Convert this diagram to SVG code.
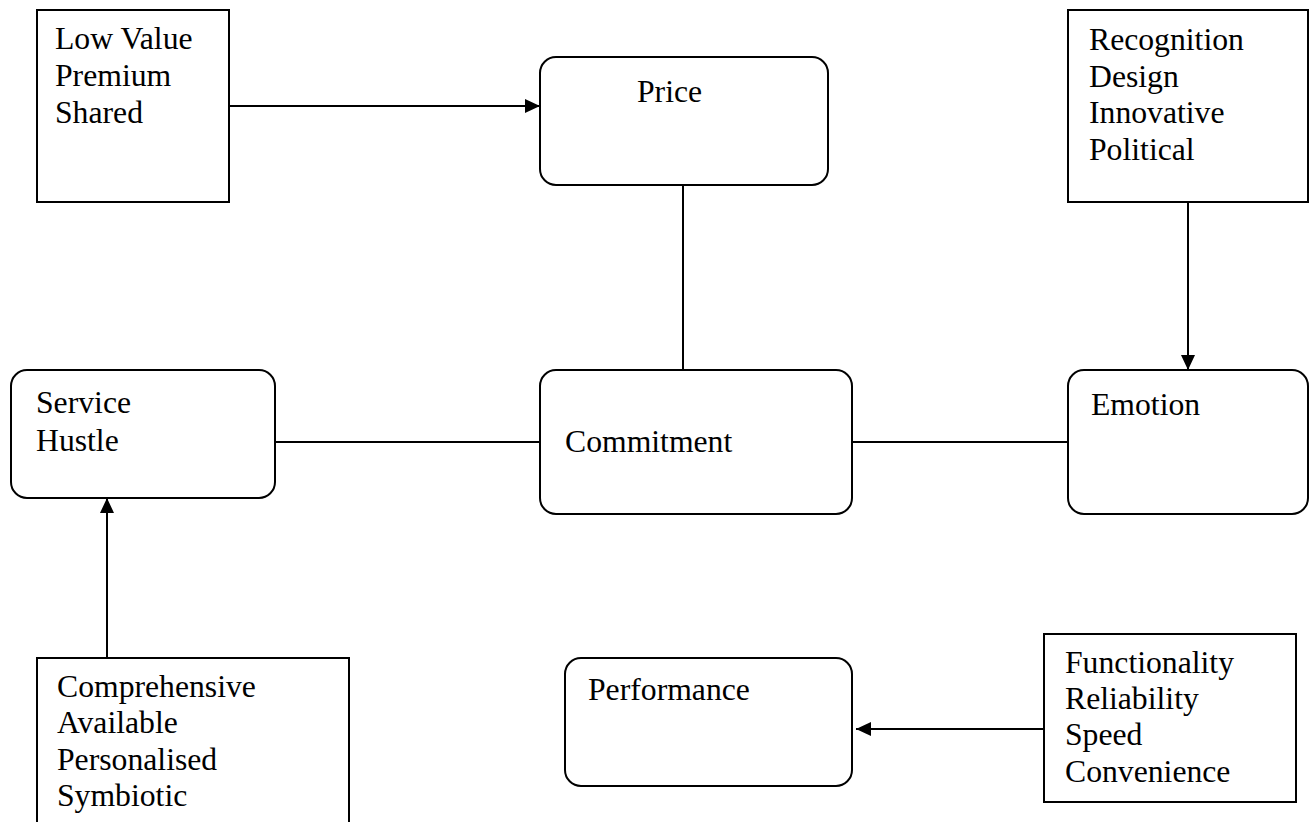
<svg xmlns="http://www.w3.org/2000/svg" width="1315" height="822" viewBox="0 0 1315 822">
  <style>
    .box { fill: #ffffff; stroke: #000000; stroke-width: 2; }
    .lbl { font-family: "Liberation Serif", "Times New Roman", serif; font-size: 31.7px; fill: #000000; }
    .wire { stroke: #000000; stroke-width: 2; fill: none; }
    .arrow { stroke: #000000; stroke-width: 2; fill: none; marker-end: url(#head); }
  </style>
  <defs>
    <marker id="head" viewBox="0 0 15 14" refX="15" refY="7" markerWidth="15" markerHeight="14" markerUnits="userSpaceOnUse" orient="auto">
      <path d="M0,0 L15,7 L0,14 Z" fill="#000000"/>
    </marker>
  </defs>
  <rect width="1315" height="822" fill="#ffffff"/>

  <!-- connectors -->
  <g id="connectors">
    <line class="arrow" x1="229" y1="106" x2="540" y2="106"/>
    <line class="wire" x1="683" y1="177" x2="683" y2="370"/>
    <line class="arrow" x1="1188" y1="202" x2="1188" y2="370"/>
    <line class="wire" x1="275" y1="442" x2="540" y2="442"/>
    <line class="wire" x1="852" y1="442" x2="1068" y2="442"/>
    <line class="arrow" x1="107" y1="658" x2="107" y2="498"/>
    <line class="arrow" x1="1044" y1="729" x2="856" y2="729"/>
  </g>

  <g id="price-factors">
    <rect class="box" x="37" y="10" width="192" height="192"/>
    <text class="lbl" x="55" y="49">Low Value</text>
    <text class="lbl" x="55" y="86">Premium</text>
    <text class="lbl" x="55" y="123">Shared</text>
  </g>

  <g id="price">
    <rect class="box" x="540" y="57" width="288" height="128" rx="16"/>
    <text class="lbl" x="637" y="102">Price</text>
  </g>

  <g id="emotion-factors">
    <rect class="box" x="1068" y="10" width="240" height="192"/>
    <text class="lbl" x="1089" y="50">Recognition</text>
    <text class="lbl" x="1089" y="87">Design</text>
    <text class="lbl" x="1089" y="123">Innovative</text>
    <text class="lbl" x="1089" y="160">Political</text>
  </g>

  <g id="service">
    <rect class="box" x="11" y="370" width="264" height="128" rx="16"/>
    <text class="lbl" x="36" y="413">Service</text>
    <text class="lbl" x="36" y="451">Hustle</text>
  </g>

  <g id="commitment">
    <rect class="box" x="540" y="370" width="312" height="144" rx="16"/>
    <text class="lbl" x="565" y="452">Commitment</text>
  </g>

  <g id="emotion">
    <rect class="box" x="1068" y="370" width="240" height="144" rx="16"/>
    <text class="lbl" x="1091" y="415">Emotion</text>
  </g>

  <g id="service-factors">
    <rect class="box" x="37" y="658" width="312" height="180"/>
    <text class="lbl" x="57" y="697">Comprehensive</text>
    <text class="lbl" x="57" y="733">Available</text>
    <text class="lbl" x="57" y="770">Personalised</text>
    <text class="lbl" x="57" y="806">Symbiotic</text>
  </g>

  <g id="performance">
    <rect class="box" x="565" y="658" width="287" height="128" rx="16"/>
    <text class="lbl" x="588" y="700">Performance</text>
  </g>

  <g id="performance-factors">
    <rect class="box" x="1044" y="634" width="252" height="168"/>
    <text class="lbl" x="1065" y="673">Functionality</text>
    <text class="lbl" x="1065" y="709">Reliability</text>
    <text class="lbl" x="1065" y="745">Speed</text>
    <text class="lbl" x="1065" y="782">Convenience</text>
  </g>
</svg>
